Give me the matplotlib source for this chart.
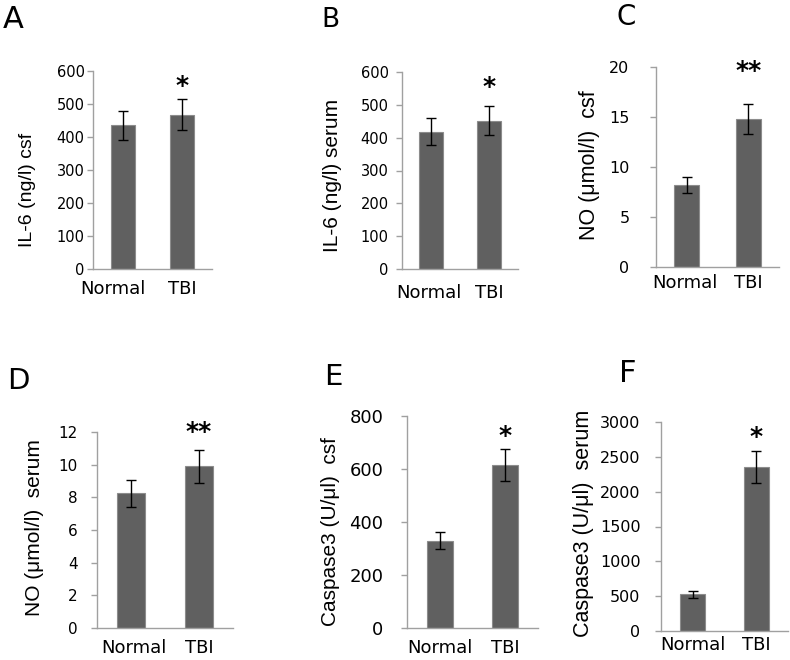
import matplotlib
matplotlib.use("Agg")
import matplotlib.pyplot as plt
from matplotlib.transforms import ScaledTranslation

# ---------------- data ----------------
categories = ["Normal", "TBI"]
panel_letters = ["A", "B", "C", "D", "E", "F"]
ylabels = ["IL-6 (ng/l) csf", "IL-6 (ng/l) serum", "NO (\u03bcmol/l)  csf",
           "NO (\u03bcmol/l)  serum", "Caspase3 (U/\u03bcl)  csf", "Caspase3 (U/\u03bcl)  serum"]
il6_csf = [435, 468]
il6_csf_err = [44, 48]
il6_serum = [418, 452]
il6_serum_err = [41, 45]
no_csf = [8.2, 14.8]
no_csf_err = [0.8, 1.5]
no_serum = [8.25, 9.9]
no_serum_err = [0.82, 1.0]
casp_csf = [330, 615]
casp_csf_err = [33, 62]
casp_serum = [530, 2360]
casp_serum_err = [50, 230]
stars = ["*", "*", "**", "**", "*", "*"]
star_y = [554, 554, 19.6, 11.97, 726, 2780]
yticks = [list(range(0, 601, 100)), list(range(0, 601, 100)), [0, 5, 10, 15, 20],
          list(range(0, 13, 2)), list(range(0, 801, 200)), list(range(0, 3001, 500))]
ymax = [600, 600, 20, 12, 800, 3000]

values = [il6_csf, il6_serum, no_csf, no_serum, casp_csf, casp_serum]
errors = [il6_csf_err, il6_serum_err, no_csf_err, no_serum_err, casp_csf_err, casp_serum_err]

# ---------------- layout (pixels) ----------------
W, H = 790, 660
PX = 72 / 100  # points per pixel at dpi 100
# left, right, top, bottom
boxes = [(93, 212, 71, 269), (402, 518, 72, 269), (656, 779, 67, 267),
         (97, 233, 432, 628), (407, 538, 416, 628), (661, 788, 422, 631)]
letter_pos = [(13, 19), (330, 20), (626, 17), (18, 381), (333, 377), (628, 373)]
letter_size = [22, 19, 20, 21, 21, 22]
ylabel_pos = [(27, 190), (333, 175), (590, 165), (35, 528), (330, 532), (583, 523)]
ylabel_size = [14, 15, 15.5, 15, 15, 15.5]
ytick_size = [10.5, 10.5, 11.5, 11, 13, 11.5]
ytick_pad_px = [2, 7, 20, 13, 17, 14]
xtick_pad_px = [10.5, 15.5, 7.5, 11, 11, 5.5]
normal_shift_px = [-10, -2, -2, 3, 0, 0]

fig = plt.figure(figsize=(W / 100, H / 100), dpi=100)

bar_color = "#606060"
spine_color = "#a0a0a0"

for i in range(6):
    l, r, t, b = boxes[i]
    ax = fig.add_axes([l / W, (H - b) / H, (r - l) / W, (b - t) / H])
    x = list(range(len(categories)))
    ax.bar(x, values[i], width=0.4, color=bar_color, edgecolor="#8c8c8c", linewidth=0.8,
           yerr=errors[i], ecolor="black", capsize=3.5, error_kw=dict(elinewidth=1.0, capthick=1.0))
    ax.set_xlim(-0.5, 1.5)
    ax.set_ylim(0, ymax[i])
    ax.set_yticks(yticks[i])
    ax.set_yticklabels([str(v) for v in yticks[i]], fontsize=ytick_size[i], family="DejaVu Sans")
    ax.set_xticks(x)
    ax.set_xticklabels(categories, fontsize=13, family="DejaVu Sans")
    ax.tick_params(axis="x", length=0, pad=xtick_pad_px[i] * PX)
    ax.tick_params(axis="y", length=6.5 * PX, width=1, color=spine_color, pad=ytick_pad_px[i] * PX)
    lab = ax.get_xticklabels()[0]
    lab.set_transform(lab.get_transform() + ScaledTranslation(normal_shift_px[i] / 100, 0, fig.dpi_scale_trans))
    for s in ["top", "right"]:
        ax.spines[s].set_visible(False)
    for s in ["left", "bottom"]:
        ax.spines[s].set_color(spine_color)
        ax.spines[s].set_linewidth(1)
    ax.text(1, star_y[i], stars[i], ha="center", va="center", fontsize=18,
            fontweight="bold", family="DejaVu Sans", clip_on=False)
    fig.text(letter_pos[i][0] / W, 1 - letter_pos[i][1] / H, panel_letters[i],
             fontsize=letter_size[i], family="DejaVu Sans", ha="center", va="center")
    fig.text(ylabel_pos[i][0] / W, 1 - ylabel_pos[i][1] / H, ylabels[i], rotation=90,
             fontsize=ylabel_size[i], family="Liberation Sans", ha="center", va="center")

fig.savefig("out.png", dpi=100)
